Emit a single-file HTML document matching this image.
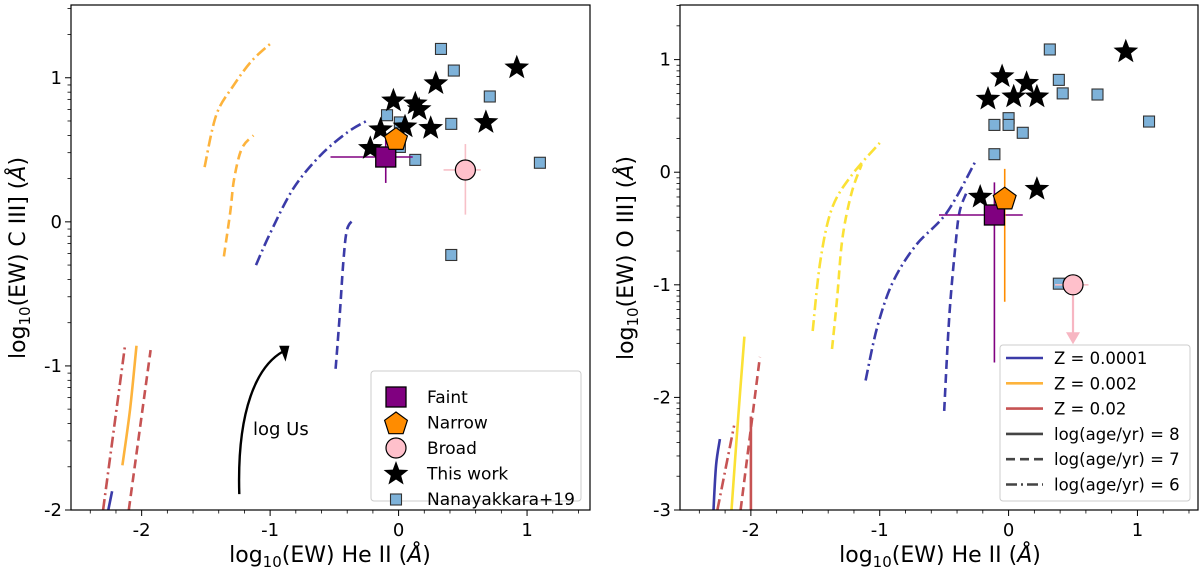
<!DOCTYPE html>
<html><head><meta charset="utf-8"><style>
body{margin:0;background:#fff}
svg{display:block;font-family:"DejaVu Sans","Liberation Sans",sans-serif}
</style></head><body>
<svg id="c" width="1200" height="580" viewBox="0 0 1200 580"></svg>
<script>
// ---------- data ----------
const starsL_x=[-0.22,-0.14,-0.04,0.05,0.13,0.16,0.25,0.29,0.68,0.92];
const starsL_y=[0.51,0.64,0.84,0.66,0.82,0.78,0.65,0.96,0.69,1.07];
const nanaL_x=[0.33,0.43,0.71,-0.09,0.41,0.01,0.01,0.13,-0.09,1.1,0.41];
const nanaL_y=[1.2,1.05,0.87,0.74,0.68,0.69,0.52,0.43,0.42,0.41,-0.23];
const faintL=[-0.1,0.45,-0.53,0.11,0.27,0.57];
const narrowL=[-0.02,0.57];
const broadL=[0.52,0.36,0.35,0.64,0.05,0.54];
const zLowDashdotL_x=[-1.51,-1.42,-1.29,-1.14,-0.98];
const zLowDashdotL_y=[0.38,0.74,0.94,1.12,1.25];
const zMidDashedL_x=[-1.36,-1.31,-1.28,-1.22,-1.13];
const zMidDashedL_y=[-0.24,0.07,0.3,0.51,0.6];
const zBlueDashdotL_x=[-1.11,-1.0,-0.82,-0.61,-0.4,-0.25];
const zBlueDashdotL_y=[-0.3,-0.08,0.23,0.46,0.62,0.7];
const zBlueDashedL_x=[-0.49,-0.46,-0.43,-0.4,-0.34];
const zBlueDashedL_y=[-1.02,-0.67,-0.28,-0.05,0.02];
const redDashdotL_x=[-2.3,-2.13]; const redDashdotL_y=[-2,-0.86];
const orSolidL_x=[-2.15,-2.09,-2.04]; const orSolidL_y=[-1.69,-1.3,-0.86];
const redDashedL_x=[-2.1,-1.93]; const redDashedL_y=[-2,-0.89];
const blueSolidL_x=[-2.26,-2.23]; const blueSolidL_y=[-2,-1.87];

const starsR_x=[-0.16,-0.05,0.04,0.14,0.22,-0.22,0.22,0.91];
const starsR_y=[0.65,0.85,0.67,0.79,0.67,-0.22,-0.15,1.07];
const nanaR_x=[0.32,0.39,0.42,0.69,0.0,0.0,-0.11,0.11,-0.11,1.09,0.39];
const nanaR_y=[1.09,0.82,0.7,0.69,0.48,0.42,0.42,0.35,0.16,0.45,-0.99];
const faintR=[-0.11,-0.38,-0.54,0.11,-1.69,-0.09];
const narrowR=[-0.03,-0.24,-0.08,0.0,-1.15,0.03];
const broadR=[0.5,-1.0,0.36,0.62,-1.51];
const yDashdotR_x=[-1.52,-1.46,-1.37,-1.22,-1.0];
const yDashdotR_y=[-1.41,-0.78,-0.32,-0.03,0.26];
const yDashedR_x=[-1.37,-1.33,-1.29,-1.22,-1.14];
const yDashedR_y=[-1.57,-1.11,-0.59,-0.19,0.07];
const bDashdotR_x=[-1.11,-1.02,-0.9,-0.72,-0.48,-0.26];
const bDashdotR_y=[-1.85,-1.38,-0.98,-0.65,-0.36,0.09];
const bDashedR_x=[-0.5,-0.46,-0.41,-0.38,-0.33];
const bDashedR_y=[-2.12,-1.28,-0.62,-0.35,-0.19];
const ySolidR_x=[-2.15,-2.1,-2.05]; const ySolidR_y=[-3,-2.2,-1.46];
const bSolidR_x=[-2.29,-2.27,-2.24]; const bSolidR_y=[-3,-2.6,-2.37];
const rDashdotR_x=[-2.26,-2.13]; const rDashdotR_y=[-3,-2.25];
const rDashedR_x=[-2.08,-1.93]; const rDashedR_y=[-3,-1.64];
const rSolidR_x=[-2.0,-2.0]; const rSolidR_y=[-3,-2.17];
const xTicks=[-2,-1,0,1];
const yTicksL=[1,0,-1,-2];
const yTicksR=[1,0,-1,-2,-3];

// ---------- helpers ----------
const NS="http://www.w3.org/2000/svg";
const svg=document.getElementById('c');
function mk(tag,attrs,parent){const e=document.createElementNS(NS,tag);for(const k in attrs)e.setAttribute(k,attrs[k]);(parent||svg).appendChild(e);return e;}
const BLUE="#3b3ba8",ORANGE="#fdb33c",YELLOW="#fbe135",RED="#c65353",PURPLE="#800080",SQ="#7eb2d9";
const DASH="9,5",DASHDOT="11,4,2,4";

function smoothPath(P){
  if(P.length<3)return P.map((p,i)=>(i?'L':'M')+p[0].toFixed(1)+','+p[1].toFixed(1)).join(' ');
  let d='M'+P[0][0].toFixed(1)+','+P[0][1].toFixed(1);
  for(let i=0;i<P.length-1;i++){
    const p0=P[i-1]||P[i],p1=P[i],p2=P[i+1],p3=P[i+2]||P[i+1];
    const c1=[p1[0]+(p2[0]-p0[0])/6,p1[1]+(p2[1]-p0[1])/6];
    const c2=[p2[0]-(p3[0]-p1[0])/6,p2[1]-(p3[1]-p1[1])/6];
    d+=` C${c1[0].toFixed(1)},${c1[1].toFixed(1)} ${c2[0].toFixed(1)},${c2[1].toFixed(1)} ${p2[0].toFixed(1)},${p2[1].toFixed(1)}`;
  }
  return d;
}

function panel(p){
  const g=mk('g',{});
  
  
  const X=v=>p.x0+(v-p.xmin)*(p.x1-p.x0)/(p.xmax-p.xmin);
  const Y=v=>p.y1-(v-p.ymin)*(p.y1-p.y0)/(p.ymax-p.ymin);
  for(let v=-2.4;v<=1.45;v+=0.2){const t=Math.round(v*10)/10;if(Math.abs(t-Math.round(t))<0.01)continue;
    const l=mk('line',{x1:X(t),x2:X(t),y1:p.y1,y2:p.y1+3.5,stroke:'#000','stroke-width':0.8},g);
    }
  xTicks.forEach(t=>{
    const l=mk('line',{x1:X(t),x2:X(t),y1:p.y1,y2:p.y1+6,stroke:'#000','stroke-width':1},g);
    
    const tx=mk('text',{x:X(t),y:p.y1+26,'text-anchor':'middle','font-size':18},g);tx.textContent=t<0?'-'+(-t):t;
    
  });
  for(let k=Math.ceil(p.ymin);k<p.ymax;k++){[0.3,0.48,0.6,0.7,0.78,0.85,0.9,0.95].forEach(f=>{const v=k+f;if(v>p.ymax)return;
    const l=mk('line',{x1:p.x0-3.5,x2:p.x0,y1:Y(v),y2:Y(v),stroke:'#000','stroke-width':0.8},g);
    });}
  p.yTicks.forEach(t=>{
    const l=mk('line',{x1:p.x0-6,x2:p.x0,y1:Y(t),y2:Y(t),stroke:'#000','stroke-width':1},g);
    
    const tx=mk('text',{x:p.x0-9,y:Y(t)+6,'text-anchor':'end','font-size':18},g);tx.textContent=t<0?'-'+(-t):t;
    
  });
  p.lines.forEach(L=>{
    const d=smoothPath(L.xs.map((v,i)=>[X(v),Y(L.ys[i])]));
    const pa=mk('path',{d:d,fill:'none',stroke:L.c,'stroke-width':2.6,'stroke-dasharray':L.dash||'none'},g);
    
  });
  p.extra && p.extra(g,X,Y);
  p.nx.forEach((v,i)=>{const s=11;
    const r=mk('rect',{x:X(v)-s/2,y:Y(p.ny[i])-s/2,width:s,height:s,fill:SQ,stroke:'#333','stroke-width':1.1},g);
    });
  const f=p.faint,n=p.narrow,b=p.broad;
  function eb(x1,y1,x2,y2,c,nm){const l=mk('line',{x1:X(x1),y1:Y(y1),x2:X(x2),y2:Y(y2),stroke:c,'stroke-width':1.6},g);}
  eb(b[2],b[1],b[3],b[1],'#f7c0c8','broad-xerr');
  if(b.length>5)eb(b[0],b[4],b[0],b[5],'#f7c0c8','broad-yerr');
  eb(f[2],f[1],f[3],f[1],PURPLE,'faint-xerr');eb(f[0],f[4],f[0],f[5],PURPLE,'faint-yerr');
  if(n.length>2){eb(n[2],n[1],n[3],n[1],'#ff8c00','narrow-xerr');eb(n[0],n[4],n[0],n[5],'#ff8c00','narrow-yerr');}
  p.sx.forEach((v,i)=>{star(g,X(v),Y(p.sy[i]),13);});
  const fs=20;const fr=mk('rect',{x:X(f[0])-fs/2,y:Y(f[1])-fs/2,width:fs,height:fs,fill:PURPLE,stroke:'#000','stroke-width':1.3},g);
  
  pent(g,X(n[0]),Y(n[1]),12,'narrow-point');
  const bc=mk('circle',{cx:X(b[0]),cy:Y(b[1]),r:10,fill:'#ffc0cb',stroke:'#000','stroke-width':1.2},g);
  
  const fr2=mk('rect',{x:p.x0,y:p.y0,width:p.x1-p.x0,height:p.y1-p.y0,fill:'none',stroke:'#000','stroke-width':1.2},g);
  
  return {X,Y,g};
}
function star(g,cx,cy,R){let pts=[];for(let i=0;i<10;i++){const r=i%2?R*0.42:R;const a=-Math.PI/2+i*Math.PI/5;pts.push((cx+r*Math.cos(a)).toFixed(1)+','+(cy+r*Math.sin(a)).toFixed(1));}
  const s=mk('polygon',{points:pts.join(' '),fill:'#000'},g);return s;}
function pent(g,cx,cy,R,nm){let pts=[];for(let i=0;i<5;i++){const a=-Math.PI/2+i*2*Math.PI/5;pts.push((cx+R*Math.cos(a)).toFixed(1)+','+(cy+R*Math.sin(a)).toFixed(1));}
  const s=mk('polygon',{points:pts.join(' '),fill:'#ff8c00',stroke:'#000','stroke-width':1.2},g);return s;}

const L=panel({name:'left-panel',x0:71,x1:590,y0:5,y1:510,xmin:-2.55,xmax:1.49,ymin:-2,ymax:1.505,yTicks:yTicksL,
  nx:nanaL_x,ny:nanaL_y,sx:starsL_x,sy:starsL_y,faint:faintL,narrow:narrowL,broad:broadL,
  lines:[
   {xs:zLowDashdotL_x,ys:zLowDashdotL_y,c:ORANGE,dash:DASHDOT,name:'z002-age6-line'},
   {xs:zMidDashedL_x,ys:zMidDashedL_y,c:ORANGE,dash:DASH,name:'z002-age7-line'},
   {xs:zBlueDashdotL_x,ys:zBlueDashdotL_y,c:BLUE,dash:DASHDOT,name:'z0001-age6-line'},
   {xs:zBlueDashedL_x,ys:zBlueDashedL_y,c:BLUE,dash:DASH,name:'z0001-age7-line'},
   {xs:redDashdotL_x,ys:redDashdotL_y,c:RED,dash:DASHDOT,name:'z02-age6-line'},
   {xs:orSolidL_x,ys:orSolidL_y,c:ORANGE,name:'z002-age8-line'},
   {xs:redDashedL_x,ys:redDashedL_y,c:RED,dash:DASH,name:'z02-age7-line'},
   {xs:blueSolidL_x,ys:blueSolidL_y,c:BLUE,name:'z0001-age8-line'}],
  extra:(g,X,Y)=>{
    const a=mk('path',{d:`M${X(-1.24)},${Y(-1.89)} C${X(-1.26)},${Y(-1.3)} ${X(-1.1)},${Y(-1.0)} ${X(-0.9)},${Y(-0.9)}`,fill:'none',stroke:'#000','stroke-width':2.4},g);
    
    const h=mk('polygon',{points:`${X(-0.85)},${Y(-0.86)} ${X(-0.93)},${Y(-0.86)} ${X(-0.88)},${Y(-0.97)}`,fill:'#000'},g);
    
    const t=mk('text',{x:253,y:435,'font-size':18},g);t.textContent='log Us';
    
  }});

const R=panel({name:'right-panel',x0:680,x1:1198,y0:5,y1:510,xmin:-2.55,xmax:1.47,ymin:-3,ymax:1.485,yTicks:yTicksR,
  nx:nanaR_x,ny:nanaR_y,sx:starsR_x,sy:starsR_y,faint:faintR,narrow:narrowR,broad:broadR,
  lines:[
   {xs:yDashdotR_x,ys:yDashdotR_y,c:YELLOW,dash:DASHDOT,name:'z002-age6-line'},
   {xs:yDashedR_x,ys:yDashedR_y,c:YELLOW,dash:DASH,name:'z002-age7-line'},
   {xs:bDashdotR_x,ys:bDashdotR_y,c:BLUE,dash:DASHDOT,name:'z0001-age6-line'},
   {xs:bDashedR_x,ys:bDashedR_y,c:BLUE,dash:DASH,name:'z0001-age7-line'},
   {xs:ySolidR_x,ys:ySolidR_y,c:YELLOW,name:'z002-age8-line'},
   {xs:bSolidR_x,ys:bSolidR_y,c:BLUE,name:'z0001-age8-line'},
   {xs:rDashdotR_x,ys:rDashdotR_y,c:RED,dash:DASHDOT,name:'z02-age6-line'},
   {xs:rDashedR_x,ys:rDashedR_y,c:RED,dash:DASH,name:'z02-age7-line'},
   {xs:rSolidR_x,ys:rSolidR_y,c:RED,name:'z02-age8-line'}],
  extra:(g,X,Y)=>{
    const b=broadR;
    const a=mk('line',{x1:X(b[0]),y1:Y(b[1]),x2:X(b[0]),y2:Y(b[4])-8,stroke:'#f7b6c2','stroke-width':2.2},g);
    
    const h=mk('polygon',{points:`${X(b[0])-7},${Y(b[4])-10} ${X(b[0])+7},${Y(b[4])-10} ${X(b[0])},${Y(b[4])+2}`,fill:'#f7b6c2'},g);
    
  }});

function title(x,y,rot,html,nm){const t=mk('text',{x:x,y:y,'text-anchor':'middle','font-size':22,transform:rot?`rotate(-90 ${x} ${y})`:''});t.innerHTML=html;}
const sub='log<tspan font-size="15" dy="5">10</tspan><tspan dy="-5">(EW) </tspan>';
title(330,562,false,sub+'He II (<tspan font-style="italic">Å</tspan>)','x-axis-title-left');
title(940,562,false,sub+'He II (<tspan font-style="italic">Å</tspan>)','x-axis-title-right');
title(25,258,true,sub+'C III] (<tspan font-style="italic">Å</tspan>)','y-axis-title-left');
title(633,258,true,sub+'O III] (<tspan font-style="italic">Å</tspan>)','y-axis-title-right');

const lg1=mk('g',{});
mk('rect',{x:371,y:371,width:210,height:130,rx:3,fill:'#fff',stroke:'#ccc','stroke-width':1},lg1);
const labs1=['Faint','Narrow','Broad','This work','Nanayakkara+19'];
labs1.forEach((t,i)=>{const y=397+i*25.5;const tx=mk('text',{x:427,y:y+6,'font-size':17},lg1);tx.textContent=t;
  });
{mk('rect',{x:386,y:387,width:20,height:20,fill:PURPLE,stroke:'#000','stroke-width':1.3},lg1);
 pent(lg1,396,424,12,'legend-narrow-marker');
 mk('circle',{cx:396,cy:448,r:10,fill:'#ffc0cb',stroke:'#000','stroke-width':1.2},lg1);
 star(lg1,396,474,13);
 mk('rect',{x:390.5,y:494,width:11,height:11,fill:SQ,stroke:'#333','stroke-width':1.1},lg1);}
const lg2=mk('g',{});
mk('rect',{x:1000,y:345,width:190,height:156,rx:3,fill:'#fff',stroke:'#ccc','stroke-width':1},lg2);
const labs2=['Z = 0.0001','Z = 0.002','Z = 0.02','log(age/yr) = 8','log(age/yr) = 7','log(age/yr) = 6'];
const cols2=[BLUE,ORANGE,RED,'#444','#444','#444'];const dash2=['none','none','none','none','9,5','11,4,2,4'];
labs2.forEach((t,i)=>{const y=358+i*25.3;
  mk('line',{x1:1006,x2:1043,y1:y,y2:y,stroke:cols2[i],'stroke-width':2.6,'stroke-dasharray':dash2[i]},lg2);
  const tx=mk('text',{x:1054,y:y+6,'font-size':16.5},lg2);tx.textContent=t;
  });
</script>
</body></html>
